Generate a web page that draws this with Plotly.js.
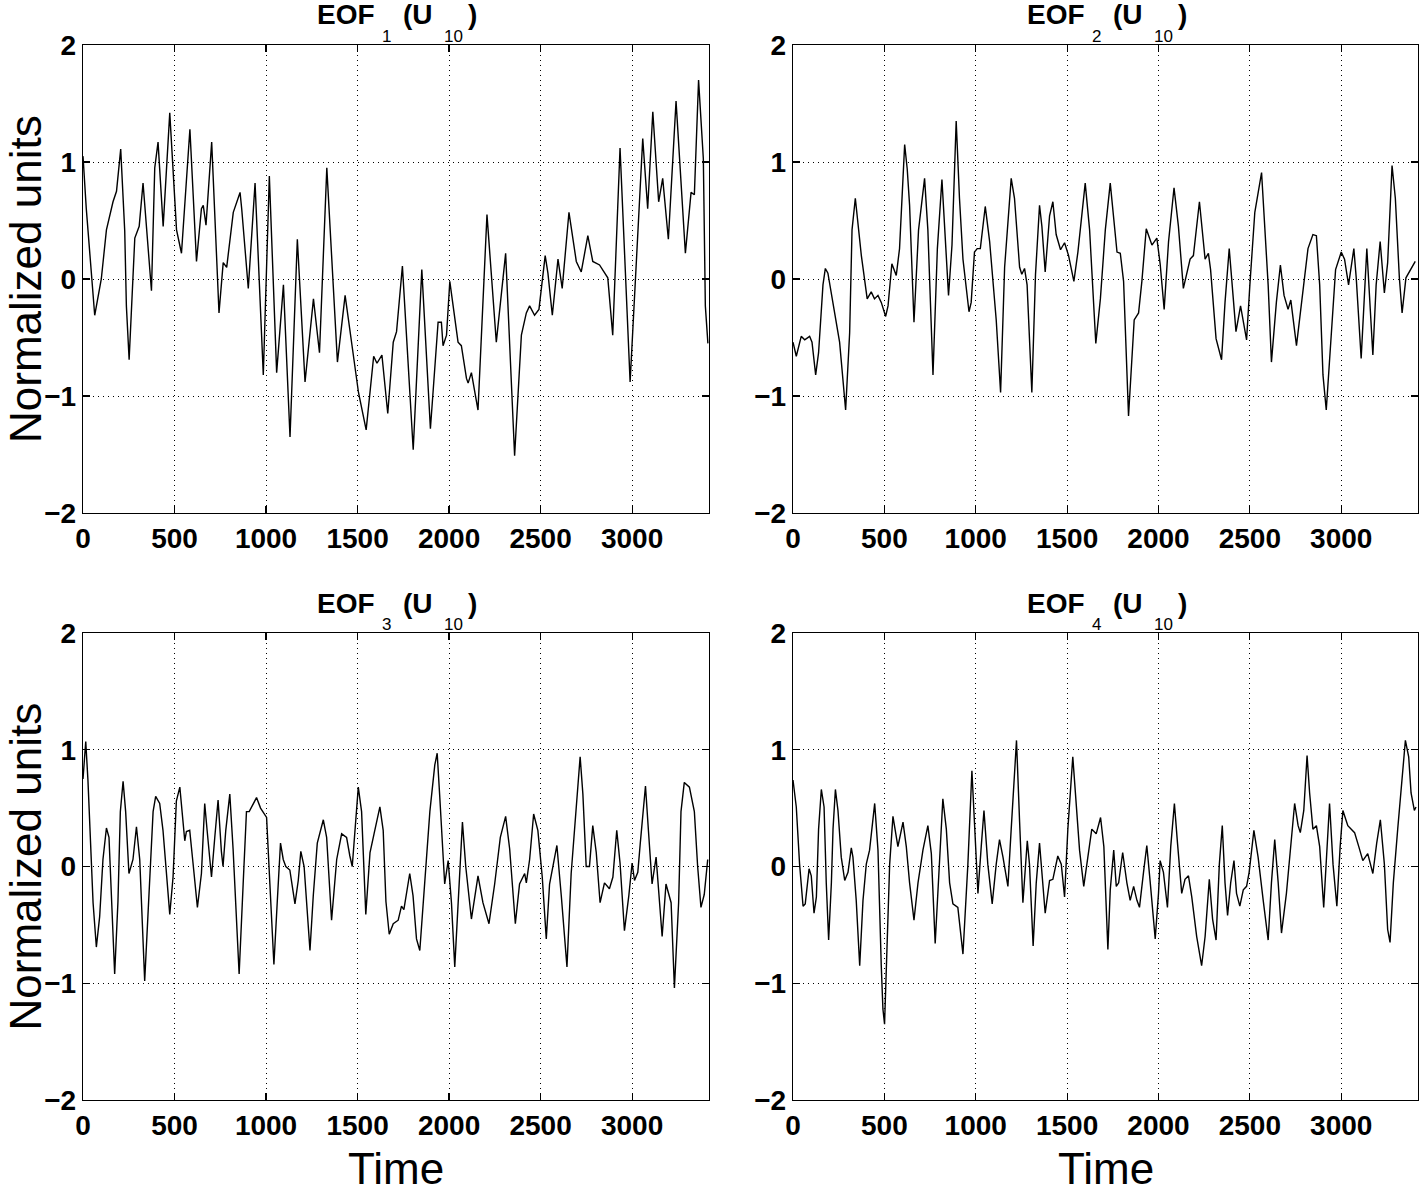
<!DOCTYPE html>
<html>
<head>
<meta charset="utf-8">
<script src="https://cdn.plot.ly/plotly-3.0.1.min.js"></script>
<style>
  body { margin: 0; background: #fff; }
  #eofGraph { width: 1419px; height: 1192px; }
</style>
</head>
<body>
<div id="eofGraph"></div>
<script>
// values (time, normalized units) at the turning points of each curve
var eof1Time = [0, 18, 64, 100, 128, 164, 183, 206, 228, 237, 252, 270, 283, 307, 328, 374, 392, 410, 438, 474, 492, 511, 538, 584, 620, 647, 657, 672, 703, 743, 766, 785, 821, 858, 867, 903, 940, 985, 1018, 1058, 1095, 1131, 1171, 1213, 1259, 1292, 1332, 1390, 1432, 1505, 1547, 1588, 1606, 1633, 1665, 1695, 1713, 1745, 1804, 1851, 1898, 1940, 1958, 1967, 1986, 2004, 2049, 2067, 2095, 2104, 2122, 2158, 2207, 2258, 2309, 2358, 2395, 2422, 2440, 2467, 2491, 2525, 2540, 2564, 2595, 2618, 2655, 2695, 2722, 2758, 2785, 2822, 2867, 2894, 2934, 2989, 3058, 3085, 3113, 3145, 3167, 3198, 3240, 3291, 3322, 3340, 3363, 3389, 3400, 3414];
var eof1Value = [1.05, 0.6, -0.31, 0.0, 0.42, 0.66, 0.75, 1.11, 0.41, -0.23, -0.69, -0.05, 0.35, 0.45, 0.82, -0.1, 0.95, 1.17, 0.45, 1.42, 0.94, 0.42, 0.22, 1.28, 0.15, 0.6, 0.63, 0.46, 1.17, -0.29, 0.14, 0.1, 0.57, 0.74, 0.6, -0.08, 0.82, -0.82, 0.88, -0.8, -0.05, -1.35, 0.34, -0.88, -0.17, -0.63, 0.95, -0.71, -0.14, -0.97, -1.29, -0.66, -0.72, -0.65, -1.15, -0.54, -0.45, 0.11, -1.46, 0.08, -1.28, -0.37, -0.37, -0.57, -0.48, -0.02, -0.54, -0.57, -0.85, -0.89, -0.8, -1.12, 0.55, -0.54, 0.22, -1.51, -0.48, -0.29, -0.23, -0.31, -0.26, 0.2, 0.05, -0.31, 0.17, -0.08, 0.57, 0.15, 0.06, 0.37, 0.15, 0.12, 0.01, -0.48, 1.12, -0.88, 1.2, 0.6, 1.43, 0.66, 0.86, 0.34, 1.52, 0.22, 0.74, 0.72, 1.7, 1.03, -0.23, -0.55];

var eof2Time = [0, 18, 45, 64, 91, 104, 124, 140, 164, 177, 191, 228, 255, 288, 310, 323, 341, 374, 406, 428, 446, 465, 483, 507, 520, 541, 565, 583, 611, 625, 638, 662, 687, 720, 738, 766, 790, 815, 829, 851, 870, 893, 911, 930, 963, 975, 993, 1008, 1025, 1052, 1076, 1112, 1136, 1158, 1194, 1212, 1240, 1252, 1267, 1281, 1307, 1327, 1349, 1362, 1380, 1404, 1422, 1440, 1464, 1486, 1508, 1537, 1559, 1599, 1623, 1657, 1682, 1709, 1736, 1755, 1773, 1791, 1809, 1836, 1854, 1867, 1891, 1909, 1933, 1964, 1991, 2009, 2031, 2055, 2085, 2109, 2136, 2173, 2191, 2224, 2255, 2273, 2285, 2315, 2345, 2364, 2387, 2405, 2424, 2449, 2482, 2500, 2527, 2564, 2582, 2600, 2618, 2645, 2667, 2687, 2709, 2724, 2755, 2791, 2818, 2845, 2864, 2882, 2900, 2918, 2945, 2969, 3000, 3018, 3040, 3069, 3082, 3109, 3140, 3173, 3191, 3213, 3236, 3254, 3278, 3296, 3318, 3333, 3354, 3381, 3405];
var eof2Value = [-0.54, -0.66, -0.49, -0.52, -0.49, -0.54, -0.82, -0.63, -0.05, 0.09, 0.05, -0.29, -0.54, -1.12, -0.46, 0.42, 0.69, 0.2, -0.17, -0.11, -0.17, -0.14, -0.2, -0.32, -0.23, 0.13, 0.03, 0.26, 1.15, 0.94, 0.63, -0.37, 0.42, 0.86, 0.42, -0.82, 0.26, 0.85, 0.45, -0.14, 0.29, 1.35, 0.69, 0.17, -0.28, -0.2, 0.23, 0.26, 0.26, 0.62, 0.32, -0.35, -0.97, 0.1, 0.86, 0.69, 0.1, 0.04, 0.09, -0.05, -0.97, 0.04, 0.63, 0.45, 0.06, 0.54, 0.66, 0.38, 0.25, 0.31, 0.2, -0.02, 0.23, 0.82, 0.42, -0.55, -0.17, 0.42, 0.82, 0.51, 0.23, 0.22, -0.02, -1.17, -0.66, -0.35, -0.29, -0.02, 0.43, 0.29, 0.35, 0.13, -0.26, 0.32, 0.78, 0.45, -0.08, 0.17, 0.2, 0.66, 0.17, 0.22, 0.08, -0.51, -0.69, -0.2, 0.26, -0.08, -0.45, -0.23, -0.52, -0.05, 0.57, 0.91, 0.42, -0.05, -0.71, -0.2, 0.12, -0.14, -0.26, -0.18, -0.57, -0.11, 0.26, 0.38, 0.37, -0.05, -0.82, -1.12, -0.51, 0.08, 0.23, 0.17, -0.05, 0.26, 0.01, -0.68, 0.26, -0.65, -0.05, 0.32, -0.12, 0.14, 0.97, 0.69, 0.01, -0.29, 0.01, 0.08, 0.15];

var eof3Time = [0, 15, 27, 40, 55, 73, 91, 109, 128, 142, 155, 173, 191, 204, 219, 233, 251, 264, 273, 292, 310, 337, 364, 383, 397, 419, 437, 456, 474, 492, 510, 529, 547, 556, 565, 583, 601, 625, 647, 665, 678, 702, 720, 738, 756, 765, 780, 802, 820, 838, 853, 875, 893, 908, 926, 948, 970, 1003, 1021, 1043, 1061, 1079, 1094, 1108, 1130, 1158, 1176, 1190, 1208, 1240, 1258, 1280, 1313, 1331, 1358, 1386, 1413, 1440, 1458, 1471, 1504, 1522, 1545, 1568, 1590, 1622, 1640, 1655, 1673, 1695, 1722, 1740, 1753, 1767, 1785, 1803, 1822, 1840, 1867, 1895, 1922, 1935, 1949, 1964, 1976, 1995, 2013, 2031, 2049, 2073, 2091, 2122, 2158, 2185, 2218, 2249, 2280, 2309, 2331, 2362, 2385, 2413, 2422, 2440, 2462, 2485, 2509, 2531, 2549, 2589, 2613, 2644, 2667, 2695, 2716, 2731, 2749, 2767, 2785, 2804, 2825, 2849, 2876, 2895, 2916, 2934, 2958, 2982, 3000, 3013, 3031, 3044, 3073, 3089, 3109, 3131, 3149, 3164, 3185, 3213, 3231, 3254, 3267, 3285, 3313, 3340, 3358, 3376, 3394, 3413];
var eof3Value = [0.75, 1.07, 0.74, 0.31, -0.31, -0.69, -0.43, 0.06, 0.33, 0.25, -0.24, -0.92, -0.3, 0.47, 0.73, 0.47, -0.06, 0.0, 0.06, 0.34, 0.06, -0.98, -0.15, 0.47, 0.6, 0.54, 0.31, -0.06, -0.41, -0.09, 0.56, 0.68, 0.37, 0.22, 0.3, 0.31, 0.03, -0.35, -0.06, 0.54, 0.31, -0.09, 0.25, 0.57, 0.13, 0.0, 0.31, 0.62, 0.15, -0.37, -0.92, -0.15, 0.47, 0.47, 0.53, 0.59, 0.5, 0.42, -0.15, -0.84, -0.31, 0.2, 0.06, 0.0, -0.03, -0.32, -0.12, 0.13, 0.0, -0.72, -0.25, 0.2, 0.4, 0.25, -0.46, 0.06, 0.28, 0.25, 0.09, 0.0, 0.68, 0.47, -0.41, 0.12, 0.28, 0.51, 0.31, -0.3, -0.58, -0.49, -0.46, -0.34, -0.37, -0.25, -0.06, -0.25, -0.62, -0.72, -0.15, 0.47, 0.87, 0.97, 0.6, 0.14, -0.15, 0.05, -0.31, -0.86, -0.31, 0.38, 0.0, -0.45, -0.08, -0.31, -0.49, -0.15, 0.25, 0.43, 0.15, -0.49, -0.15, -0.06, -0.14, 0.06, 0.45, 0.31, -0.09, -0.62, -0.15, 0.18, -0.25, -0.86, -0.06, 0.47, 0.94, 0.62, 0.0, 0.0, 0.35, 0.12, -0.31, -0.14, -0.19, -0.09, 0.31, 0.03, -0.55, -0.25, 0.03, -0.12, -0.05, 0.19, 0.69, 0.31, -0.15, 0.08, -0.31, -0.6, -0.15, -0.31, -1.04, -0.31, 0.47, 0.72, 0.68, 0.47, 0.0, -0.35, -0.24, 0.06];

var eof4Time = [0, 18, 36, 55, 67, 88, 100, 115, 128, 140, 155, 170, 182, 195, 210, 219, 232, 246, 264, 283, 301, 319, 328, 346, 365, 383, 401, 419, 447, 465, 483, 492, 501, 516, 529, 547, 574, 602, 620, 638, 662, 684, 711, 738, 757, 778, 797, 820, 839, 857, 875, 902, 930, 957, 979, 994, 1012, 1030, 1045, 1066, 1090, 1112, 1130, 1149, 1176, 1194, 1223, 1240, 1258, 1282, 1294, 1314, 1331, 1349, 1367, 1380, 1404, 1422, 1449, 1468, 1486, 1504, 1531, 1550, 1568, 1591, 1613, 1635, 1659, 1683, 1701, 1723, 1736, 1755, 1769, 1782, 1804, 1827, 1845, 1864, 1882, 1896, 1918, 1936, 1955, 1982, 2000, 2009, 2027, 2049, 2067, 2087, 2104, 2127, 2145, 2164, 2182, 2209, 2236, 2255, 2278, 2296, 2315, 2333, 2349, 2364, 2378, 2395, 2413, 2427, 2445, 2464, 2482, 2496, 2522, 2545, 2573, 2600, 2618, 2636, 2655, 2673, 2700, 2718, 2745, 2764, 2776, 2795, 2813, 2827, 2845, 2864, 2882, 2904, 2918, 2936, 2955, 2976, 2994, 3009, 3036, 3073, 3096, 3118, 3145, 3173, 3194, 3214, 3236, 3254, 3267, 3285, 3309, 3327, 3351, 3369, 3382, 3400, 3409];
var eof4Value = [0.74, 0.51, 0.02, -0.34, -0.32, -0.02, -0.08, -0.4, -0.26, 0.32, 0.66, 0.51, -0.14, -0.63, -0.14, 0.32, 0.66, 0.48, 0.08, -0.12, -0.05, 0.16, 0.08, -0.29, -0.85, -0.29, 0.02, 0.14, 0.54, 0.14, -0.85, -1.22, -1.35, -0.6, 0.02, 0.43, 0.17, 0.38, 0.17, -0.14, -0.46, -0.14, 0.14, 0.35, 0.11, -0.66, -0.14, 0.58, 0.32, -0.14, -0.32, -0.35, -0.75, 0.02, 0.82, 0.32, -0.23, 0.17, 0.48, 0.02, -0.32, 0.02, 0.23, 0.08, -0.17, 0.32, 1.08, 0.38, -0.31, 0.22, 0.02, -0.68, -0.14, 0.2, -0.17, -0.4, -0.12, -0.11, 0.09, 0.02, -0.26, 0.32, 0.94, 0.48, 0.14, -0.17, 0.08, 0.32, 0.28, 0.42, 0.17, -0.71, -0.2, 0.14, -0.17, -0.14, 0.12, -0.14, -0.29, -0.17, -0.29, -0.35, -0.05, 0.18, -0.14, -0.62, -0.23, 0.05, -0.05, -0.35, 0.17, 0.54, 0.2, -0.23, -0.11, -0.08, -0.26, -0.6, -0.85, -0.6, -0.11, -0.45, -0.63, 0.02, 0.35, -0.14, -0.42, -0.14, 0.05, -0.23, -0.34, -0.2, -0.17, -0.05, 0.31, 0.08, -0.29, -0.63, -0.14, 0.23, -0.14, -0.57, -0.23, 0.08, 0.54, 0.35, 0.29, 0.48, 0.95, 0.63, 0.32, 0.35, 0.17, -0.35, 0.02, 0.54, 0.02, -0.34, 0.17, 0.48, 0.35, 0.29, 0.17, 0.05, 0.11, -0.06, 0.2, 0.4, 0.02, -0.54, -0.65, -0.14, 0.32, 0.63, 1.08, 0.94, 0.63, 0.48, 0.51];

// panel titles: EOF<index> (U<10>), subscripts drawn as their own small texts
var eofIndex = ['1', '2', '3', '4'];
var windHeight = '10';
var xTickValues = [0, 500, 1000, 1500, 2000, 2500, 3000];
var yTickValues = [-2, -1, 0, 1, 2];

var W = 1419, H = 1192;
var FONT = 'Liberation Sans, Arial, Helvetica, sans-serif';
// plot boxes in pixels: [left, right, top, bottom]
var boxes = [[83, 709, 45, 513], [793, 1418, 45, 513], [83, 709, 633, 1100], [793, 1418, 633, 1100]];

var seriesTime = [eof1Time, eof2Time, eof3Time, eof4Time];
var seriesValue = [eof1Value, eof2Value, eof3Value, eof4Value];

var data = [];
var layout = {
  width: W,
  height: H,
  margin: { l: 0, r: 0, t: 0, b: 0 },
  showlegend: false,
  paper_bgcolor: '#fff',
  plot_bgcolor: '#fff',
  font: { family: FONT, color: '#000' },
  annotations: []
};

function label(text, px, py, size, bold, anchor) {
  return {
    text: text,
    xref: 'paper', yref: 'paper',
    x: px / W, y: 1 - py / H,
    xanchor: anchor || 'left', yanchor: 'middle',
    showarrow: false,
    font: { size: size, weight: bold ? 'bold' : 'normal', family: FONT, color: '#000' }
  };
}

for (var i = 0; i < 4; i++) {
  var n = i === 0 ? '' : String(i + 1);
  var b = boxes[i];
  data.push({
    x: seriesTime[i],
    y: seriesValue[i],
    xaxis: 'x' + n,
    yaxis: 'y' + n,
    type: 'scatter',
    mode: 'lines',
    line: { color: '#000', width: 1.4 },
    hoverinfo: 'skip'
  });

  var axisCommon = {
    showline: true,
    mirror: 'ticks',
    linecolor: '#000',
    linewidth: 1.2,
    ticks: 'inside',
    ticklen: 7,
    tickwidth: 1.2,
    tickcolor: '#000',
    showgrid: true,
    gridcolor: '#000',
    gridwidth: 1,
    griddash: '1px,4px',
    zeroline: false,
    tickfont: { size: 28, weight: 'bold', family: FONT, color: '#000' }
  };

  layout['xaxis' + n] = Object.assign({}, axisCommon, {
    domain: [b[0] / W, b[1] / W],
    anchor: 'y' + n,
    range: [0, 3420],
    tickvals: xTickValues
  });
  layout['yaxis' + n] = Object.assign({}, axisCommon, {
    domain: [1 - b[3] / H, 1 - b[2] / H],
    anchor: 'x' + n,
    range: [-2, 2],
    tickvals: yTickValues
  });

  // title pieces, placed from the left end of the title
  var cx = (b[0] + b[1]) / 2;
  var tx = cx - 81;
  var ty = b[2] - 30;
  layout.annotations.push(label('EOF', tx, ty, 28, true));
  layout.annotations.push(label(eofIndex[i], tx + 65, ty + 21, 17, false));
  layout.annotations.push(label('(U', tx + 86, ty, 28, true));
  layout.annotations.push(label(windHeight, tx + 127, ty + 21, 17, false));
  layout.annotations.push(label(')', tx + 151, ty, 28, true));

  if (i >= 2) {
    layout.annotations.push(label('Time', cx, b[3] + 68, 44, false, 'center'));
  }
  if (i % 2 === 0) {
    var yl = label('Normalized units', 25, (b[2] + b[3]) / 2, 44, false, 'center');
    yl.textangle = -90;
    layout.annotations.push(yl);
  }
}

Plotly.newPlot('eofGraph', data, layout, { staticPlot: true });
</script>
</body>
</html>
